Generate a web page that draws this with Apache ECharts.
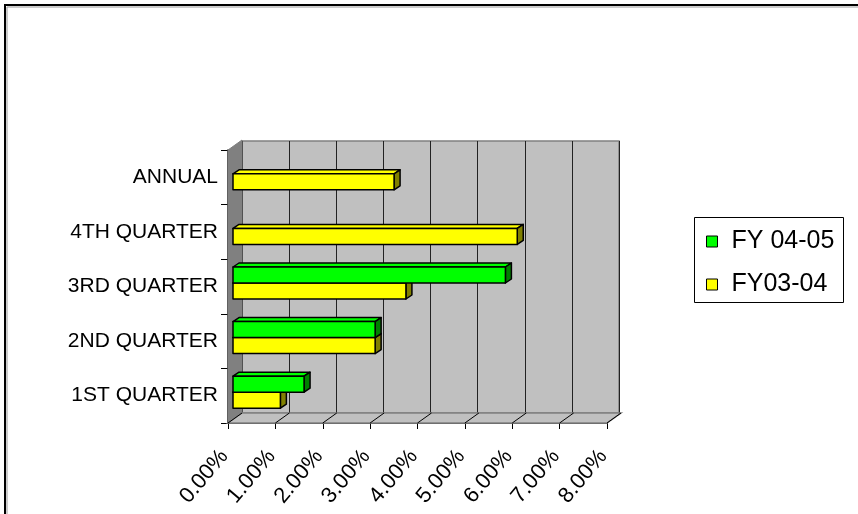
<!DOCTYPE html>
<html><head><meta charset="utf-8">
<script src="https://cdn.jsdelivr.net/npm/echarts/dist/echarts.min.js"></script>
<style>html,body{margin:0;padding:0;background:#fff}#c{width:858px;height:514px}</style>
</head><body><div id="c"></div>
<script>
// ---- data ----
const categories = ['1ST QUARTER', '2ND QUARTER', '3RD QUARTER', '4TH QUARTER', 'ANNUAL'];
const fy0405 = [1.5, 3.0, 5.75, null, null];
const fy0304 = [1.0, 3.0, 3.65, 6.0, 3.4];
const seriesNames = ['FY 04-05', 'FY03-04'];
const xMin = 0, xMax = 8, xStep = 1;
const xTicks = [0, 1, 2, 3, 4, 5, 6, 7, 8];

// ---- style constants ----
const FONT = "'Liberation Sans', Arial, sans-serif";
const DX = 14, DY = -10;          // wall depth
const BX = 5, BY = -3.5;          // bar front-face offset from front plane
const BDX = 6, BDY = -4;          // bar depth
const BAR_H = 16;
const colors = [
  { face: '#00ff00', side: '#008000' },
  { face: '#ffff00', side: '#808000' }
];

function toData(vals) {
  return vals.map((v, i) => [v, i]).filter(d => d[0] != null);
}

function barRenderer(slot) {
  const col = colors[slot];
  return function (params, api) {
    const v = api.value(0), c = api.value(1);
    const p0 = api.coord([0, c]);
    const p1 = api.coord([v, c]);
    const yc = p0[1] + BY;
    const y0 = slot === 0 ? yc - BAR_H : yc;
    const y1 = y0 + BAR_H;
    const x0 = p0[0] + BX, x1 = p1[0] + BX;
    const st = { stroke: '#000', lineWidth: 1.5, lineJoin: 'round' };
    return {
      type: 'group',
      children: [
        { type: 'polygon', shape: { points: [[x0, y0], [x0 + BDX, y0 + BDY], [x1 + BDX, y0 + BDY], [x1, y0]] },
          style: Object.assign({ fill: col.face }, st) },
        { type: 'polygon', shape: { points: [[x1, y0], [x1 + BDX, y0 + BDY], [x1 + BDX, y1 + BDY], [x1, y1]] },
          style: Object.assign({ fill: col.side }, st) },
        { type: 'rect', shape: { x: x0, y: y0, width: x1 - x0, height: y1 - y0 },
          style: Object.assign({ fill: col.face }, st) }
      ]
    };
  };
}

function wallRenderer(params, api) {
  const n = categories.length;
  const c0 = api.coord([xMin, 0]);
  const band = api.size([0, 1])[1];
  const left = c0[0];
  const bottom = c0[1] + band / 2;
  const top = bottom - band * n;
  const right = api.coord([xMax, 0])[0];
  const children = [
    { type: 'polygon', shape: { points: [[left, top], [left + DX, top + DY], [left + DX, bottom + DY], [left, bottom]] },
      style: { fill: '#808080', stroke: '#808080', lineWidth: 1 } },
    { type: 'polygon', shape: { points: [[left, bottom], [left + DX, bottom + DY], [right + DX, bottom + DY], [right, bottom]] },
      style: { fill: '#c0c0c0', stroke: '#808080', lineWidth: 1.5 } }
  ];
  xTicks.forEach(t => {
    const x = api.coord([t, 0])[0];
    children.push({ type: 'line', shape: { x1: x, y1: bottom, x2: x + DX, y2: bottom + DY },
      style: { stroke: '#000', lineWidth: 1 } });
  });
  return { type: 'group', children };
}

const chart = echarts.init(document.getElementById('c'), null, { renderer: 'canvas' });
chart.setOption({
  animation: false,
  backgroundColor: '#fff',
  textStyle: { fontFamily: FONT },
  graphic: [
    { type: 'rect', shape: { x: 5, y: 5, width: 900, height: 600 }, style: { fill: 'none', stroke: '#000', lineWidth: 2 }, z: 0 },
    { type: 'rect', shape: { x: 7, y: 7, width: 900, height: 600 }, style: { fill: 'none', stroke: '#999', lineWidth: 1 }, z: 0 },
    { type: 'rect', shape: { x: 694.5, y: 217.5, width: 149, height: 85 }, style: { fill: '#fff', stroke: '#000', lineWidth: 1 }, z: 0 }
  ],
  legend: {
    data: seriesNames.map((n, i) => ({ name: n, icon: 'rect', itemStyle: { color: colors[i].face, borderColor: '#000', borderWidth: 1 } })),
    orient: 'vertical',
    left: 706, top: 229,
    padding: 0,
    itemWidth: 11, itemHeight: 11, itemGap: 18,
    selectedMode: false,
    textStyle: { fontFamily: FONT, fontSize: 25, color: '#000', padding: [0, 0, 0, 9] }
  },
  grid: [
    { left: 242, top: 141, width: 377, height: 272, show: true, backgroundColor: '#c0c0c0', borderColor: '#808080', borderWidth: 1.5 },
    { left: 228, top: 150, width: 379, height: 273 }
  ],
  xAxis: [
    { gridIndex: 0, type: 'value', min: xMin, max: xMax, interval: xStep,
      axisLine: { show: false }, axisTick: { show: false }, axisLabel: { show: false },
      splitLine: { show: true, lineStyle: { color: '#222', width: 1 } } },
    { gridIndex: 1, type: 'value', min: xMin, max: xMax, interval: xStep,
      axisLine: { show: true, lineStyle: { color: '#000', width: 1.5 } },
      axisTick: { show: true, length: 6, lineStyle: { color: '#000' } },
      splitLine: { show: false },
      axisLabel: { rotate: 50, margin: 25, fontSize: 22, color: '#000', fontFamily: FONT,
        padding: [0, 6, 0, 0],
        formatter: v => v.toFixed(2) + '%' } }
  ],
  yAxis: [
    { gridIndex: 0, type: 'category', data: categories, show: false },
    { gridIndex: 1, type: 'category', data: categories,
      axisLine: { show: true, lineStyle: { color: '#000', width: 1.5 } },
      axisTick: { show: true, length: 7, lineStyle: { color: '#000' } },
      axisLabel: { margin: 10, fontSize: 21, color: '#000', fontFamily: FONT, padding: [0, 0, 5, 0] } }
  ],
  series: [
    { type: 'custom', name: 'walls', xAxisIndex: 1, yAxisIndex: 1, data: [[0, 0]], renderItem: wallRenderer, z: 1, silent: true, legendHoverLink: false },
    { type: 'custom', name: seriesNames[1], xAxisIndex: 1, yAxisIndex: 1, data: toData(fy0304),
      encode: { x: 0, y: 1 }, renderItem: barRenderer(1), itemStyle: { color: colors[1].face }, z: 3 },
    { type: 'custom', name: seriesNames[0], xAxisIndex: 1, yAxisIndex: 1, data: toData(fy0405),
      encode: { x: 0, y: 1 }, renderItem: barRenderer(0), itemStyle: { color: colors[0].face }, z: 4 }
  ]
});
</script></body></html>
